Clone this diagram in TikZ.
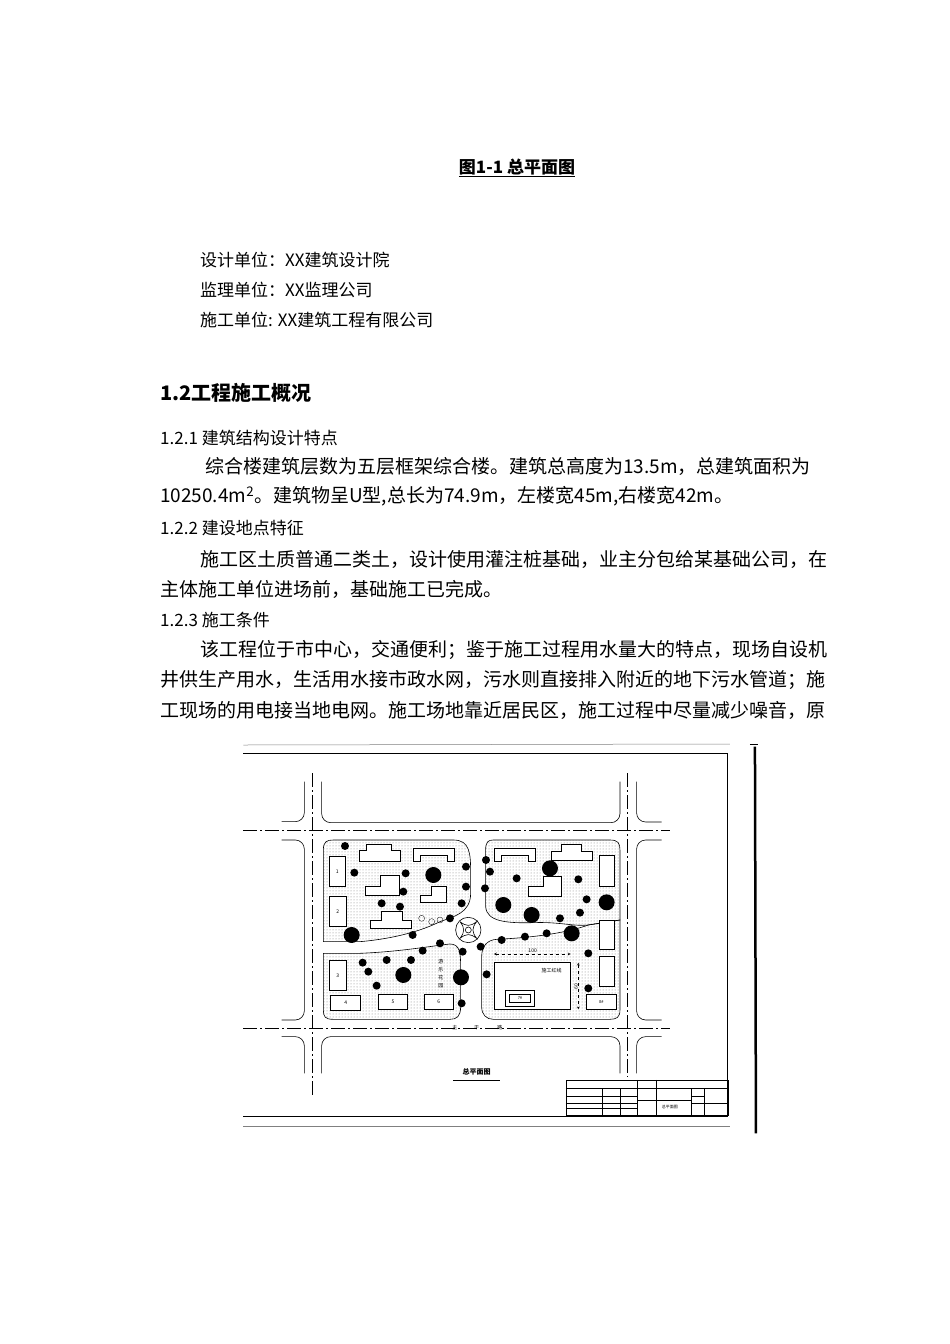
\documentclass[tikz,border=0pt]{standalone}
\usepackage{fontspec}
\setmainfont{Noto Sans CJK SC}
\usetikzlibrary{patterns}
\begin{document}
\begin{tikzpicture}[x=1pt,y=-1pt,
  txt/.style={anchor=west,inner sep=0pt,font=\fontsize{19}{22}\selectfont},
  bld/.style={draw,fill=white,line width=0.5pt},
  tree/.style={fill=black},
  road/.style={draw,line width=0.6pt},
  rr/.style={draw,line width=0.6pt,rounded corners=9pt},
  cl/.style={draw,dash pattern=on 14pt off 3pt on 2pt off 3pt,line width=0.4pt},
  small/.style={font=\fontsize{4}{5}\selectfont,inner sep=0pt}]
\useasboundingbox[fill=white] (0,0) rectangle (950,1344);
\node[inner sep=0pt,font=\bfseries\fontsize{17}{19}\selectfont] (title) at (517,168) {\underline{图1-1 总平面图}};
\node[txt,font=\fontsize{17}{20}\selectfont] (a1) at (200,260) {设计单位：XX建筑设计院};
\node[txt,font=\fontsize{17}{20}\selectfont] (a2) at (200,290) {监理单位：XX监理公司};
\node[txt,font=\fontsize{17}{20}\selectfont] (a3) at (200,320) {施工单位: XX建筑工程有限公司};
\node[txt,font=\bfseries\fontsize{20}{22}\selectfont] (h) at (160,393) {1.2工程施工概况};
\node[txt,font=\fontsize{17}{19}\selectfont] (s1) at (160,438) {1.2.1 建筑结构设计特点};
\node[txt] (l1) at (205,466) {综合楼建筑层数为五层框架综合楼。建筑总高度为13.5m，总建筑面积为};
\node[txt] (l2) at (160,496) {10250.4m\textsuperscript{2}。建筑物呈U型,总长为74.9m，左楼宽45m,右楼宽42m。};
\node[txt,font=\fontsize{17}{19}\selectfont] (s2) at (160,528) {1.2.2 建设地点特征};
\node[txt] (l3) at (200,559) {施工区土质普通二类土，设计使用灌注桩基础，业主分包给某基础公司，在};
\node[txt] (l4) at (160,589) {主体施工单位进场前，基础施工已完成。};
\node[txt,font=\fontsize{17}{19}\selectfont] (s3) at (160,620) {1.2.3 施工条件};
\node[txt] (l5) at (200,650) {该工程位于市中心，交通便利；鉴于施工过程用水量大的特点，现场自设机};
\node[txt] (l6) at (160,680) {井供生产用水，生活用水接市政水网，污水则直接排入附近的地下污水管道；施};
\node[txt] (l7) at (160,710) {工现场的用电接当地电网。施工场地靠近居民区，施工过程中尽量减少噪音，原};
\begin{scope}[shift={(240,740)},x=0.3333pt,y=-0.3333pt]
% frames
\draw[line width=0.5pt,gray] (10,15) -- (1470,12);
\draw[line width=1.2pt] (10,40) -- (1462,40) -- (1462,1130) -- (10,1130);
\draw[line width=0.5pt,gray] (10,1158) -- (1470,1158);
\draw[line width=2.5pt] (1545,20) -- (1548,1180);
\draw[line width=1pt] (1530,12) -- (1555,12);
% roads centerlines
\path[cl] (218,100) -- (218,1070);
\path[cl] (1163,100) -- (1163,1010);
\path[cl] (10,272) -- (1290,272);
\path[cl] (10,865) -- (1290,865);
% road edges
\draw[rr] (193,125) -- (193,245) -- (125,245);
\draw[rr] (245,125) -- (245,248) -- (1140,248) -- (1140,125);
\draw[rr] (1190,125) -- (1190,246) -- (1265,246);
\draw[rr] (125,300) -- (193,300) -- (193,840) -- (125,840);
\draw[rr] (1265,300) -- (1190,300) -- (1190,840) -- (1265,840);
\draw[rr] (125,890) -- (193,890) -- (193,1000);
\draw[rr] (1265,890) -- (1190,890) -- (1190,1000);
\draw[rr] (245,1000) -- (245,890) -- (1140,890) -- (1140,1000);
% site blocks
\draw[road,pattern=dots,pattern color=gray] (280,300) -- (640,300) .. controls (690,300) and (692,340) .. (692,400) -- (692,460) .. controls (692,520) and (640,530) .. (600,545) .. controls (520,585) and (420,600) .. (360,605) -- (250,605) -- (250,330) .. controls (250,305) and (260,300) .. (280,300);
\draw[road,pattern=dots,pattern color=gray] (250,640) -- (360,640) .. controls (480,635) and (560,620) .. (630,612) .. controls (660,612) and (662,640) .. (662,680) -- (662,800) .. controls (662,830) and (650,838) .. (630,838) -- (280,838) .. controls (255,838) and (250,830) .. (250,810) -- cycle;
\draw[road,pattern=dots,pattern color=gray] (760,300) -- (1110,300) .. controls (1135,300) and (1140,310) .. (1140,330) -- (1140,540) -- (1045,555) .. controls (1000,560) and (960,545) .. (880,548) .. controls (800,550) and (740,545) .. (737,500) -- (737,330) .. controls (737,305) and (745,300) .. (760,300);
\draw[road,pattern=dots,pattern color=gray] (770,598) .. controls (900,592) and (990,575) .. (1045,555) -- (1140,540) -- (1140,810) .. controls (1140,832) and (1130,838) .. (1110,838) -- (760,838) .. controls (740,838) and (725,825) .. (725,800) -- (725,650) .. controls (725,620) and (740,600) .. (770,598);
% roundabout
\draw[road,fill=white] (685,570) circle[radius=38];
\draw[road] (660,545) .. controls (680,560) and (690,560) .. (710,545) .. controls (695,565) and (695,575) .. (710,595) .. controls (690,580) and (680,580) .. (660,595) .. controls (675,575) and (675,565) .. (660,545);
\draw[road] (685,570) circle[radius=9];
% buildings left
\draw[bld] (357,363) -- (357,330) -- (380,330) -- (380,312) -- (455,312) -- (455,330) -- (480,330) -- (480,363) -- cycle;
\draw[bld] (520,363) -- (520,325) -- (642,325) -- (642,363) -- (622,363) -- (622,345) -- (540,345) -- (540,363) -- cycle;
\draw[bld] (377,465) -- (377,438) -- (420,438) -- (420,405) -- (477,405) -- (477,465) -- cycle;
\draw[bld] (540,488) -- (540,465) -- (575,465) -- (575,440) -- (618,440) -- (618,488) -- cycle;
\draw[bld] (390,565) -- (390,540) -- (425,540) -- (425,515) -- (488,515) -- (488,540) -- (515,540) -- (515,565) -- cycle;
\draw[bld] (268,348) rectangle (315,440) node[pos=.5,small,font=\fontsize{5}{5}\selectfont] (b1) {1};
\draw[bld] (268,470) rectangle (318,560) node[pos=.5,small,font=\fontsize{5}{5}\selectfont] (b2) {2};
\draw[bld] (268,660) rectangle (318,752) node[pos=.5,small,font=\fontsize{5}{5}\selectfont] (b3) {3};
\draw[bld] (272,765) rectangle (362,810) node[pos=.5,small,font=\fontsize{5}{5}\selectfont] (b4) {4};
\draw[bld] (415,762) rectangle (503,808) node[pos=.5,small,font=\fontsize{5}{5}\selectfont] (b5) {5};
\draw[bld] (553,762) rectangle (640,808) node[pos=.5,small,font=\fontsize{5}{5}\selectfont] (b6) {6};
% buildings right
\draw[bld] (762,363) -- (762,325) -- (885,325) -- (885,363) -- (865,363) -- (865,345) -- (785,345) -- (785,363) -- cycle;
\draw[bld] (935,360) -- (935,335) -- (965,335) -- (965,312) -- (1025,312) -- (1025,335) -- (1058,335) -- (1058,360) -- cycle;
\draw[bld] (865,470) -- (865,440) -- (910,440) -- (910,410) -- (965,410) -- (965,470) -- cycle;
\draw[bld] (1078,345) rectangle (1122,438);
\draw[bld] (1078,540) rectangle (1122,628);
\draw[bld] (1078,650) rectangle (1122,740);
\draw[bld] (1040,762) rectangle (1128,808) node[pos=.5,small] (b8) {8\#};
\draw[bld] (762,668) rectangle (992,808);
\node[small,font=\fontsize{5}{5}\selectfont] (hx) at (935,693) {施工红线};
\draw[bld] (795,752) rectangle (883,798);
\draw[bld] (808,763) rectangle (872,787) node[pos=.5,small] (b7) {7\#};
% dimensions
\draw[dashed,line width=0.3pt,<->,>=stealth] (762,642) -- (992,642);
\node[small,font=\fontsize{5}{5}\selectfont] (d100) at (878,632) {100};
\draw[dashed,line width=0.3pt,<->,>=stealth] (1015,668) -- (1015,808);
\node[small,font=\fontsize{5}{5}\selectfont,rotate=90] (d60) at (1008,740) {60};
\node[small,font=\fontsize{5}{6}\selectfont,align=center] (yuan) at (603,700) {游\\[2pt]乐\\[2pt]花\\[2pt]园};
% trees
\foreach \x/\y in {315/318,343/398,497/400,490/455,425/490,480/500,518/585,630/535,600/610,548/632,513/660,440/660,368/668,385/695,410/737,668/635,665/790,678/380,678/440,665/490,738/360,750/395,735/445,830/415,1015/418,1040/478,1020/518,960/535,920/580,855/590,785/600,722/620,740/703,1045/640,1045/745}
  \fill[tree] (\x,\y) circle[radius=12];
\foreach \x/\y in {580/405,335/585,490/705,663/712,790/495,875/525,930/385,1100/487,995/580}
  \fill[tree] (\x,\y) circle[radius=24];
\foreach \x/\y in {545/535,575/545,600/540}
  \draw[line width=0.3pt] (\x,\y) circle[radius=9];
% road label
\node[small,font=\fontsize{5}{5}\selectfont] (r1) at (645,862) {主};
\node[small,font=\fontsize{5}{5}\selectfont] (r2) at (710,862) {干};
\node[small,font=\fontsize{5}{5}\selectfont] (r3) at (780,862) {路};
% caption
\node[small,font=\bfseries\fontsize{7}{8}\selectfont] (cap) at (710,995) {总平面图};
\draw[line width=0.5pt] (640,1020) -- (780,1020);
% title block
\draw[line width=0.6pt] (978,1020) rectangle (1465,1125);
\draw[line width=0.4pt] (978,1045) -- (1465,1045);
\foreach \yy in {1070,1090,1105} \draw[line width=0.3pt] (978,\yy) -- (1192,\yy);
\foreach \xx in {1088,1140,1192,1248} \draw[line width=0.3pt] (\xx,1045) -- (\xx,1125);
\draw[line width=0.3pt] (1192,1020) -- (1192,1045);
\draw[line width=0.3pt] (1248,1020) -- (1248,1080);
\draw[line width=0.3pt] (1192,1080) -- (1355,1080);
\draw[line width=0.3pt] (1355,1045) -- (1355,1125);
\draw[line width=0.3pt] (1392,1045) -- (1392,1125);
\draw[line width=0.3pt] (1355,1070) -- (1392,1070);
\draw[line width=0.3pt] (1355,1090) -- (1465,1090);
\node[small] (tb) at (1290,1100) {总平面图};
\end{scope}
\end{tikzpicture}
\end{document}
